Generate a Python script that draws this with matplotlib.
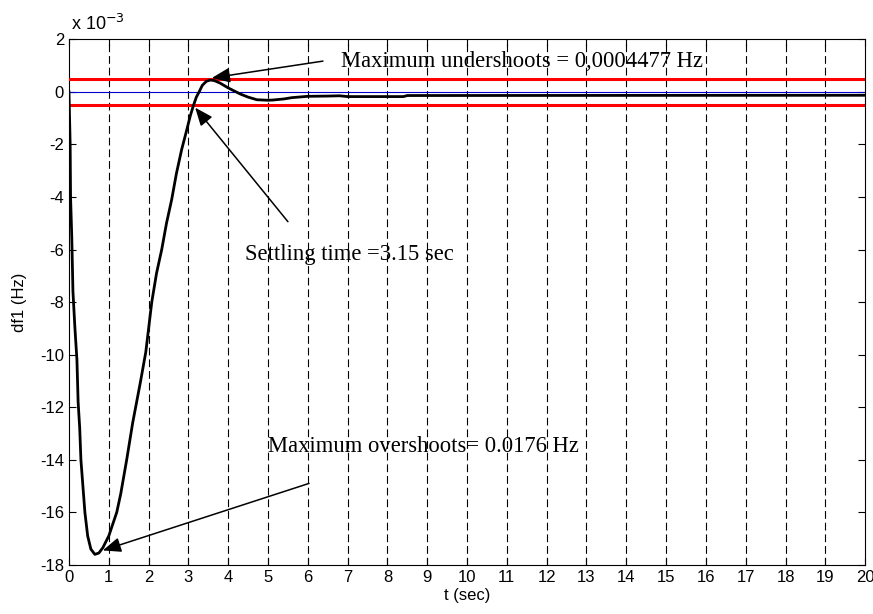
import matplotlib
matplotlib.use("Agg")
import matplotlib.pyplot as plt
from matplotlib.ticker import FuncFormatter, MultipleLocator

# Data (df1 in units of 1e-3 Hz)
t = [0, 0.03, 0.04, 0.07, 0.10, 0.15, 0.20, 0.23, 0.27, 0.30, 0.35, 0.40,
     0.47, 0.55, 0.65, 0.75, 0.85, 1.0, 1.1, 1.2, 1.3, 1.45, 1.6, 1.7, 1.8,
     1.93, 2.08, 2.2, 2.33, 2.45, 2.58, 2.7, 2.83, 2.95, 3.05, 3.12, 3.2,
     3.27, 3.35, 3.45, 3.55, 3.65, 3.8, 4.0, 4.3, 4.5, 4.72, 5.0, 5.13, 5.4,
     5.6, 6.0, 6.5, 6.8, 7.0, 8.4, 8.5, 20]
df1_milli = [0, -2.0, -4.0, -5.5, -7.6, -9.0, -10.2, -11.8, -12.8, -14.0, -15.0, -16.0,
             -16.9, -17.4, -17.6, -17.55, -17.35, -16.9, -16.45, -16.0, -15.3, -14.0, -12.6, -11.8, -11.0,
             -9.9, -8.0, -6.9, -6.0, -5.0, -4.1, -3.1, -2.2, -1.5, -0.9, -0.55, -0.2,
             0.0, 0.25, 0.40, 0.45, 0.43, 0.33, 0.15, -0.08, -0.2, -0.3, -0.32, -0.31, -0.27,
             -0.22, -0.17, -0.16, -0.15, -0.18, -0.18, -0.14, -0.13]
band_milli = [0.5, -0.5]

ann_texts = ["Maximum undershoots = 0,0004477 Hz",
             "Settling time =3.15 sec",
             "Maximum overshoots= 0.0176 Hz"]
ann_tips = [(3.59, 0.53), (3.17, -0.6), (0.85, -17.45)]
ann_tails = [(6.38, 1.17), (5.50, -4.94), (6.03, -14.9)]
ann_text_pos = [(6.83, 1.15), (4.42, -6.2), (5.0, -13.5)]

scale = 1e-3

fig = plt.figure(figsize=(8.73, 6.14), dpi=100)
ax = fig.add_axes([0.079, 0.080, 0.912, 0.856])

ax.set_xlim(0, 20)
ax.set_ylim(-18 * scale, 2 * scale)

for xv in range(1, 20):
    ax.axvline(xv, color="black", lw=0.8, dashes=(7, 3.5), zorder=1)

ax.axhline(0, color="#0000cc", lw=0.8, zorder=2)
for b in band_milli:
    ax.axhline(b * scale, color="#ff0000", lw=2.2, zorder=3)

ax.plot(t, [v * scale for v in df1_milli], color="black", lw=2.0, zorder=4)

for txt, tip, tail, tp in zip(ann_texts, ann_tips, ann_tails, ann_text_pos):
    ax.annotate("", xy=(tip[0], tip[1] * scale), xytext=(tail[0], tail[1] * scale),
                arrowprops=dict(arrowstyle="-|>,head_length=1.1,head_width=0.45",
                                color="black", lw=1.1, shrinkA=0, shrinkB=0),
                zorder=5)
    ax.text(tp[0], tp[1] * scale, txt, family="Liberation Serif", fontsize=16.3,
            ha="left", va="center", zorder=6)

ax.xaxis.set_major_locator(MultipleLocator(1))
ax.yaxis.set_major_locator(MultipleLocator(2 * scale))
ax.yaxis.set_major_formatter(FuncFormatter(lambda v, p: f"{round(v / scale):d}"))
ax.tick_params(direction="in", top=True, right=True, length=5, width=0.8,
               labelsize=12)
for lab in ax.get_xticklabels() + ax.get_yticklabels():
    lab.set_family("Liberation Sans")
for s in ax.spines.values():
    s.set_linewidth(0.8)

ax.set_xlabel("t (sec)", family="Liberation Sans", fontsize=12, labelpad=2)
ax.set_ylabel("df1 (Hz)", family="Liberation Sans", fontsize=12, labelpad=9)

fig.text(0.081, 0.945, r"x 10$^{-3}$", family="Liberation Sans", fontsize=13,
         ha="left", va="bottom")

fig.savefig("out.png", dpi=100)
